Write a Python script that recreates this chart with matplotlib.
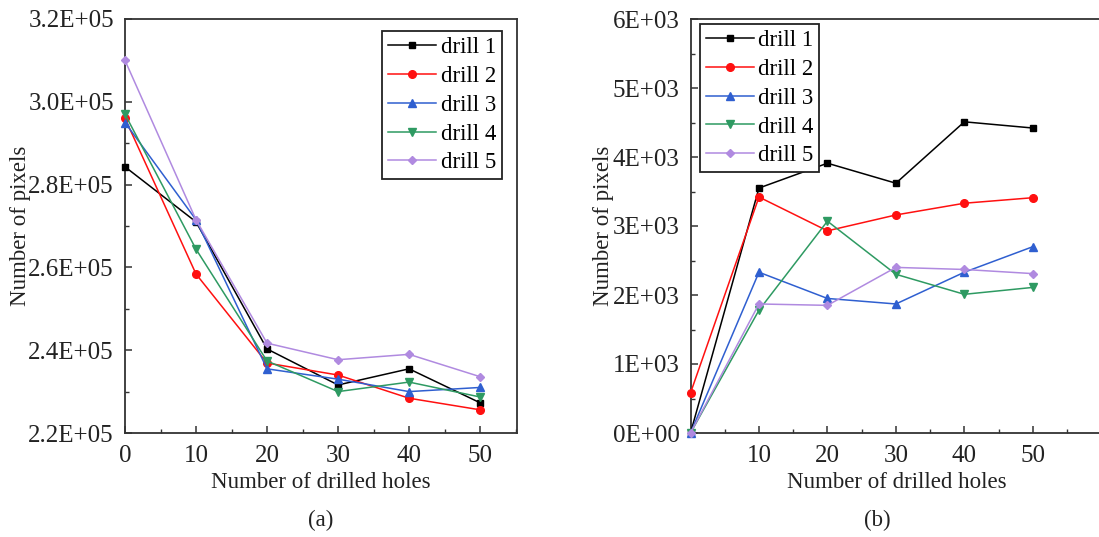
import matplotlib
matplotlib.use("Agg")
import matplotlib.pyplot as plt
from matplotlib.ticker import FuncFormatter, MultipleLocator, AutoMinorLocator

plt.rcParams['font.family'] = ['Liberation Serif', 'DejaVu Serif']

holes = [0, 10, 20, 30, 40, 50]
labels = ["drill 1", "drill 2", "drill 3", "drill 4", "drill 5"]

# (a) values
a_d1 = [2.843e5, 2.710e5, 2.403e5, 2.316e5, 2.355e5, 2.273e5]
a_d2 = [2.960e5, 2.584e5, 2.369e5, 2.340e5, 2.284e5, 2.256e5]
a_d3 = [2.950e5, 2.715e5, 2.355e5, 2.330e5, 2.300e5, 2.310e5]
a_d4 = [2.970e5, 2.644e5, 2.374e5, 2.300e5, 2.323e5, 2.287e5]
a_d5 = [3.100e5, 2.715e5, 2.417e5, 2.377e5, 2.390e5, 2.336e5]

# (b) values
b_d1 = [0, 3550, 3910, 3620, 4510, 4420]
b_d2 = [580, 3420, 2930, 3160, 3330, 3410]
b_d3 = [0, 2330, 1950, 1870, 2330, 2700]
b_d4 = [0, 1780, 3070, 2300, 2010, 2110]
b_d5 = [0, 1870, 1850, 2400, 2370, 2310]

colors = ['#000000', '#FF1010', '#2F5FD0', '#2E9A62', '#B08AE0']
markers = ['s', 'o', '^', 'v', 'D']
msizes = [5, 5.5, 5.5, 5.5, 4.5]

W, H = 1099, 537
fig = plt.figure(figsize=(W/100, H/100), dpi=100)

def px_ax(l, r, t, b):
    return fig.add_axes([l/W, 1 - b/H, (r - l)/W, (b - t)/H])

ax1 = px_ax(125, 517, 19, 433)
ax2 = px_ax(690.5, 1104, 19, 433)

fs_tick = 18
fs_lab = 16.5
fs_leg = 16.5

for ax, series in ((ax1, [a_d1, a_d2, a_d3, a_d4, a_d5]),
                   (ax2, [b_d1, b_d2, b_d3, b_d4, b_d5])):
    for s, c, m, ms, lab in zip(series, colors, markers, msizes, labels):
        ax.plot(holes, s, color=c, marker=m, markersize=ms, linewidth=1.1,
                label=lab, clip_on=False, zorder=3)
    for sp in ax.spines.values():
        sp.set_linewidth(1.3)
        sp.set_color('#333333')
    ax.tick_params(direction='in', which='both', labelsize=fs_tick, colors='#333333',
                   labelcolor='#222222')
    ax.tick_params(axis='x', which='major', pad=9)
    ax.tick_params(axis='y', which='major', pad=8)
    ax.tick_params(which='major', length=5, width=1.1)
    ax.tick_params(which='minor', length=3, width=1.0)
    ax.set_xlabel("Number of drilled holes", fontsize=fs_lab, color='#222222', labelpad=3)
    ax.set_ylabel("Number of pixels", fontsize=fs_lab, color='#222222')
    leg = ax.legend(fontsize=fs_leg, handlelength=2.1, handletextpad=0.2,
                    labelspacing=0.34, borderpad=0.25, borderaxespad=0.5,
                    fancybox=False, framealpha=1, edgecolor='#222222')
    leg.get_frame().set_linewidth(1.3)

# (a)
ax1.set_xlim(0, 55.2)
ax1.set_ylim(2.2e5, 3.2e5)
ax1.xaxis.set_major_locator(MultipleLocator(10))
ax1.xaxis.set_minor_locator(AutoMinorLocator(2))
ax1.yaxis.set_major_locator(MultipleLocator(0.2e5))
ax1.yaxis.set_minor_locator(AutoMinorLocator(2))
ax1.yaxis.set_major_formatter(FuncFormatter(lambda v, p: "%.1fE+05" % (v / 1e5)))
ax1.yaxis.set_label_coords((31 - 125) / 392, 0.5)
ax1.legend_.set_loc('upper right')
ax1.legend_.set_bbox_to_anchor((0.99, 0.998))
ax1.text(0.5, -0.185, "(a)", transform=ax1.transAxes, ha='center', va='top',
         fontsize=fs_lab, color='#222222')

# (b)
ax2.set_xlim(0, 60.4)
ax2.set_ylim(0, 6000)
ax2.set_xticks([10, 20, 30, 40, 50])
ax2.xaxis.set_minor_locator(MultipleLocator(5))
ax2.yaxis.set_major_locator(MultipleLocator(1000))
ax2.yaxis.set_minor_locator(AutoMinorLocator(2))
ax2.yaxis.set_major_formatter(FuncFormatter(lambda v, p: "%dE+%02d" % (round(v / 1000), 3 if v else 0)))
ax2.yaxis.set_label_coords((614 - 690.5) / 413.5, 0.5)
ax2.legend_.set_loc('upper left')
ax2.legend_.set_bbox_to_anchor((-0.005, 1.015))
ax2.text((877 - 690.5) / (1104 - 690.5), -0.185, "(b)", transform=ax2.transAxes,
         ha='center', va='top', fontsize=fs_lab, color='#222222')

fig.savefig("out.png", dpi=100)
